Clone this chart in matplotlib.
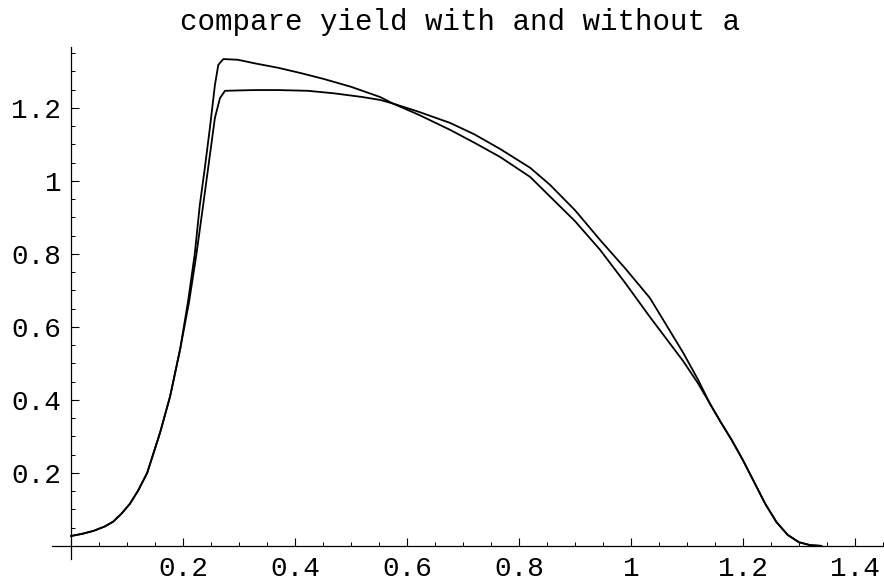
"""
compare yield with and without a
2本の収量曲線を Mathematica 風の軸で描く
"""

import matplotlib
matplotlib.use("Agg")
import matplotlib.pyplot as plt
from matplotlib.ticker import FixedLocator, FuncFormatter

# 曲線1 (ピークが高い方)
x_with = [0, 0.02, 0.04, 0.06, 0.075, 0.09, 0.105, 0.12, 0.136, 0.159,
          0.177, 0.195, 0.209, 0.221, 0.230, 0.239, 0.248, 0.257, 0.263, 0.272,
          0.298, 0.329, 0.37, 0.409, 0.45, 0.50, 0.552, 0.575, 0.62, 0.677,
          0.72, 0.766, 0.82, 0.855, 0.90, 0.945, 0.99, 1.034, 1.093, 1.12,
          1.141, 1.16, 1.18, 1.20, 1.22, 1.24, 1.26, 1.28, 1.30, 1.32, 1.34]
y_with = [0.027, 0.033, 0.041, 0.053, 0.066, 0.088, 0.115, 0.152, 0.20, 0.31,
          0.41, 0.54, 0.67, 0.80, 0.934, 1.036, 1.145, 1.263, 1.318, 1.334,
          1.332, 1.322, 1.31, 1.296, 1.28, 1.258, 1.230, 1.212, 1.182, 1.140,
          1.105, 1.066, 1.011, 0.958, 0.89, 0.811, 0.72, 0.627, 0.507, 0.445,
          0.39, 0.34, 0.29, 0.235, 0.175, 0.115, 0.065, 0.03, 0.01, 0.002, 0.0]

# 曲線2 (平らな方)
x_without = [0, 0.02, 0.04, 0.06, 0.075, 0.09, 0.105, 0.12, 0.136, 0.159,
             0.177, 0.195, 0.211, 0.224, 0.236, 0.248, 0.257, 0.266, 0.275, 0.30,
             0.329, 0.37, 0.423, 0.47, 0.52, 0.552, 0.575, 0.62, 0.677, 0.72,
             0.766, 0.82, 0.855, 0.90, 0.945, 0.99, 1.034, 1.093, 1.12, 1.141,
             1.16, 1.18, 1.20, 1.22, 1.24, 1.26, 1.28, 1.30, 1.32, 1.34]
y_without = [0.027, 0.033, 0.041, 0.053, 0.066, 0.088, 0.115, 0.152, 0.20, 0.31,
             0.41, 0.54, 0.67, 0.80, 0.934, 1.071, 1.173, 1.227, 1.247, 1.248,
             1.249, 1.249, 1.247, 1.24, 1.23, 1.222, 1.212, 1.19, 1.159, 1.128,
             1.088, 1.036, 0.99, 0.92, 0.838, 0.76, 0.679, 0.53, 0.455, 0.39,
             0.34, 0.29, 0.235, 0.175, 0.115, 0.065, 0.03, 0.01, 0.002, 0.0]

x_ticks = [0.2, 0.4, 0.6, 0.8, 1.0, 1.2, 1.4]
y_ticks = [0.2, 0.4, 0.6, 0.8, 1.0, 1.2]
x_minor = [i * 0.05 for i in range(1, 30)]
y_minor = [i * 0.05 for i in range(1, 28)]

title = "compare yield with and without a"


def fmt(v, pos):
    """Mathematica 風: 1.0 -> 1"""
    s = f"{v:.1f}"
    return s[:-2] if s.endswith(".0") else s


def main():
    plt.rcParams['font.family'] = ['Liberation Mono', 'DejaVu Sans Mono']

    fig = plt.figure(figsize=(8.84, 5.81), dpi=100)
    ax = fig.add_axes([52 / 884, 22 / 581, 832 / 884, 512 / 581])

    ax.plot(x_with, y_with, color='black', lw=1.3)
    ax.plot(x_without, y_without, color='black', lw=1.3)

    ax.set_xlim(-0.034, 1.452)
    ax.set_ylim(-0.036, 1.367)

    # 軸は原点を通す
    ax.spines['left'].set_position(('data', 0))
    ax.spines['bottom'].set_position(('data', 0))
    ax.spines['top'].set_visible(False)
    ax.spines['right'].set_visible(False)
    for s in ('left', 'bottom'):
        ax.spines[s].set_linewidth(0.9)

    ax.xaxis.set_major_locator(FixedLocator(x_ticks))
    ax.yaxis.set_major_locator(FixedLocator(y_ticks))
    ax.xaxis.set_minor_locator(FixedLocator(x_minor))
    ax.yaxis.set_minor_locator(FixedLocator(y_minor))
    ax.xaxis.set_major_formatter(FuncFormatter(fmt))
    ax.yaxis.set_major_formatter(FuncFormatter(fmt))

    ax.tick_params(which='major', direction='in', length=5.5, width=0.8,
                   labelsize=20, pad=7)
    ax.tick_params(which='minor', direction='in', length=3.2, width=0.7)

    fig.text(460 / 884, 1 - 22 / 581, title, ha='center', va='center',
             fontsize=21)

    fig.savefig("out.png", dpi=100)


if __name__ == "__main__":
    main()
